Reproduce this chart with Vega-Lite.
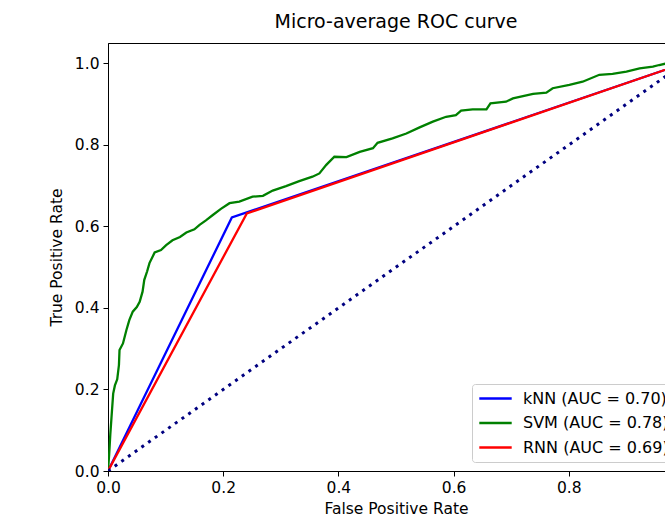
{
  "$schema": "https://vega.github.io/schema/vega-lite/v6.json",
  "width": 576,
  "height": 428,
  "autosize": {"type": "none"},
  "padding": {"left": 108, "top": 43, "right": 0, "bottom": 51},
  "background": "white",
  "title": {
    "text": "Micro-average ROC curve",
    "anchor": "middle",
    "frame": "group",
    "font": "DejaVu Sans",
    "fontSize": 19,
    "fontWeight": "normal",
    "color": "black",
    "offset": 11
  },
  "config": {
    "view": {"stroke": "black", "strokeWidth": 1},
    "axis": {
      "grid": false,
      "domainColor": "black",
      "domainWidth": 1,
      "tickColor": "black",
      "tickSize": 5,
      "tickWidth": 1,
      "labelFont": "DejaVu Sans",
      "labelFontSize": 15.5,
      "labelColor": "black",
      "labelPadding": 4,
      "labelFlush": false,
      "labelOverlap": false,
      "titleFont": "DejaVu Sans",
      "titleFontSize": 15.5,
      "titleFontWeight": "normal",
      "titleColor": "black"
    }
  },
  "layer": [
    {
      "data": {
        "values": [
          {"model": "kNN (AUC = 0.70)", "fpr": 0, "tpr": 0},
          {"model": "kNN (AUC = 0.70)", "fpr": 0.215, "tpr": 0.622},
          {"model": "kNN (AUC = 0.70)", "fpr": 1, "tpr": 1},
          {"model": "SVM (AUC = 0.78)", "fpr": 0, "tpr": 0},
          {"model": "SVM (AUC = 0.78)", "fpr": 0.002, "tpr": 0.04},
          {"model": "SVM (AUC = 0.78)", "fpr": 0.004, "tpr": 0.09},
          {"model": "SVM (AUC = 0.78)", "fpr": 0.006, "tpr": 0.13},
          {"model": "SVM (AUC = 0.78)", "fpr": 0.009, "tpr": 0.19},
          {"model": "SVM (AUC = 0.78)", "fpr": 0.012, "tpr": 0.21},
          {"model": "SVM (AUC = 0.78)", "fpr": 0.016, "tpr": 0.225},
          {"model": "SVM (AUC = 0.78)", "fpr": 0.019, "tpr": 0.26},
          {"model": "SVM (AUC = 0.78)", "fpr": 0.02, "tpr": 0.297},
          {"model": "SVM (AUC = 0.78)", "fpr": 0.026, "tpr": 0.313},
          {"model": "SVM (AUC = 0.78)", "fpr": 0.032, "tpr": 0.346},
          {"model": "SVM (AUC = 0.78)", "fpr": 0.037, "tpr": 0.37},
          {"model": "SVM (AUC = 0.78)", "fpr": 0.043, "tpr": 0.391},
          {"model": "SVM (AUC = 0.78)", "fpr": 0.05, "tpr": 0.402},
          {"model": "SVM (AUC = 0.78)", "fpr": 0.055, "tpr": 0.415},
          {"model": "SVM (AUC = 0.78)", "fpr": 0.06, "tpr": 0.44},
          {"model": "SVM (AUC = 0.78)", "fpr": 0.063, "tpr": 0.469},
          {"model": "SVM (AUC = 0.78)", "fpr": 0.068, "tpr": 0.49},
          {"model": "SVM (AUC = 0.78)", "fpr": 0.072, "tpr": 0.51},
          {"model": "SVM (AUC = 0.78)", "fpr": 0.081, "tpr": 0.536},
          {"model": "SVM (AUC = 0.78)", "fpr": 0.092, "tpr": 0.542},
          {"model": "SVM (AUC = 0.78)", "fpr": 0.101, "tpr": 0.554},
          {"model": "SVM (AUC = 0.78)", "fpr": 0.112, "tpr": 0.566},
          {"model": "SVM (AUC = 0.78)", "fpr": 0.125, "tpr": 0.574},
          {"model": "SVM (AUC = 0.78)", "fpr": 0.136, "tpr": 0.585},
          {"model": "SVM (AUC = 0.78)", "fpr": 0.15, "tpr": 0.593},
          {"model": "SVM (AUC = 0.78)", "fpr": 0.159, "tpr": 0.604},
          {"model": "SVM (AUC = 0.78)", "fpr": 0.17, "tpr": 0.615},
          {"model": "SVM (AUC = 0.78)", "fpr": 0.182, "tpr": 0.628},
          {"model": "SVM (AUC = 0.78)", "fpr": 0.196, "tpr": 0.643},
          {"model": "SVM (AUC = 0.78)", "fpr": 0.211, "tpr": 0.657},
          {"model": "SVM (AUC = 0.78)", "fpr": 0.228, "tpr": 0.661},
          {"model": "SVM (AUC = 0.78)", "fpr": 0.251, "tpr": 0.673},
          {"model": "SVM (AUC = 0.78)", "fpr": 0.269, "tpr": 0.675},
          {"model": "SVM (AUC = 0.78)", "fpr": 0.286, "tpr": 0.688},
          {"model": "SVM (AUC = 0.78)", "fpr": 0.309, "tpr": 0.699},
          {"model": "SVM (AUC = 0.78)", "fpr": 0.332, "tpr": 0.711},
          {"model": "SVM (AUC = 0.78)", "fpr": 0.355, "tpr": 0.722},
          {"model": "SVM (AUC = 0.78)", "fpr": 0.367, "tpr": 0.73},
          {"model": "SVM (AUC = 0.78)", "fpr": 0.379, "tpr": 0.751},
          {"model": "SVM (AUC = 0.78)", "fpr": 0.393, "tpr": 0.771},
          {"model": "SVM (AUC = 0.78)", "fpr": 0.414, "tpr": 0.77},
          {"model": "SVM (AUC = 0.78)", "fpr": 0.437, "tpr": 0.783},
          {"model": "SVM (AUC = 0.78)", "fpr": 0.46, "tpr": 0.792},
          {"model": "SVM (AUC = 0.78)", "fpr": 0.468, "tpr": 0.805},
          {"model": "SVM (AUC = 0.78)", "fpr": 0.494, "tpr": 0.816},
          {"model": "SVM (AUC = 0.78)", "fpr": 0.518, "tpr": 0.828},
          {"model": "SVM (AUC = 0.78)", "fpr": 0.541, "tpr": 0.843},
          {"model": "SVM (AUC = 0.78)", "fpr": 0.564, "tpr": 0.857},
          {"model": "SVM (AUC = 0.78)", "fpr": 0.587, "tpr": 0.869},
          {"model": "SVM (AUC = 0.78)", "fpr": 0.604, "tpr": 0.873},
          {"model": "SVM (AUC = 0.78)", "fpr": 0.613, "tpr": 0.884},
          {"model": "SVM (AUC = 0.78)", "fpr": 0.633, "tpr": 0.887},
          {"model": "SVM (AUC = 0.78)", "fpr": 0.657, "tpr": 0.887},
          {"model": "SVM (AUC = 0.78)", "fpr": 0.664, "tpr": 0.902},
          {"model": "SVM (AUC = 0.78)", "fpr": 0.691, "tpr": 0.906},
          {"model": "SVM (AUC = 0.78)", "fpr": 0.703, "tpr": 0.914},
          {"model": "SVM (AUC = 0.78)", "fpr": 0.738, "tpr": 0.925},
          {"model": "SVM (AUC = 0.78)", "fpr": 0.761, "tpr": 0.928},
          {"model": "SVM (AUC = 0.78)", "fpr": 0.772, "tpr": 0.939},
          {"model": "SVM (AUC = 0.78)", "fpr": 0.801, "tpr": 0.947},
          {"model": "SVM (AUC = 0.78)", "fpr": 0.824, "tpr": 0.955},
          {"model": "SVM (AUC = 0.78)", "fpr": 0.853, "tpr": 0.972},
          {"model": "SVM (AUC = 0.78)", "fpr": 0.876, "tpr": 0.974},
          {"model": "SVM (AUC = 0.78)", "fpr": 0.9, "tpr": 0.98},
          {"model": "SVM (AUC = 0.78)", "fpr": 0.923, "tpr": 0.988},
          {"model": "SVM (AUC = 0.78)", "fpr": 0.946, "tpr": 0.992},
          {"model": "SVM (AUC = 0.78)", "fpr": 0.957, "tpr": 0.996},
          {"model": "SVM (AUC = 0.78)", "fpr": 0.97, "tpr": 1},
          {"model": "SVM (AUC = 0.78)", "fpr": 1, "tpr": 1},
          {"model": "RNN (AUC = 0.69)", "fpr": 0, "tpr": 0},
          {"model": "RNN (AUC = 0.69)", "fpr": 0.241, "tpr": 0.632},
          {"model": "RNN (AUC = 0.69)", "fpr": 1, "tpr": 1}
        ]
      },
      "mark": {"type": "line", "strokeWidth": 2.3, "clip": true},
      "encoding": {
        "x": {
          "field": "fpr",
          "type": "quantitative",
          "scale": {"domain": [0, 1], "nice": false, "zero": false},
          "axis": {"title": "False Positive Rate", "values": [0, 0.2, 0.4, 0.6, 0.8, 1.0], "format": ".1f", "titlePadding": 6}
        },
        "y": {
          "field": "tpr",
          "type": "quantitative",
          "scale": {"domain": [0, 1.05], "nice": false, "zero": false},
          "axis": {"title": "True Positive Rate", "values": [0, 0.2, 0.4, 0.6, 0.8, 1.0], "format": ".1f", "titlePadding": 10}
        },
        "color": {
          "field": "model",
          "type": "nominal",
          "scale": {
            "domain": ["kNN (AUC = 0.70)", "SVM (AUC = 0.78)", "RNN (AUC = 0.69)"],
            "range": ["#0000ff", "#008000", "#ff0000"]
          },
          "legend": {
            "title": null,
            "orient": "none",
            "legendX": 364,
            "legendY": 341,
            "symbolType": "stroke",
            "symbolSize": 1050,
            "symbolStrokeWidth": 2.3,
            "labelFont": "DejaVu Sans",
            "labelFontSize": 16,
            "labelColor": "black",
            "labelOffset": 10,
            "labelLimit": 400,
            "clipHeight": 17,
            "rowPadding": 7.5,
            "padding": 6,
            "fillColor": "white",
            "strokeColor": "#cccccc",
            "cornerRadius": 3
          }
        },
        "order": {"value": null}
      }
    },
    {
      "data": {"values": [{"fpr": 0, "tpr": 0}, {"fpr": 1, "tpr": 1}]},
      "mark": {"type": "line", "color": "#000080", "strokeWidth": 3, "strokeDash": [3, 5.2], "strokeCap": "butt", "clip": true},
      "encoding": {
        "x": {"field": "fpr", "type": "quantitative"},
        "y": {"field": "tpr", "type": "quantitative"}
      }
    }
  ]
}
